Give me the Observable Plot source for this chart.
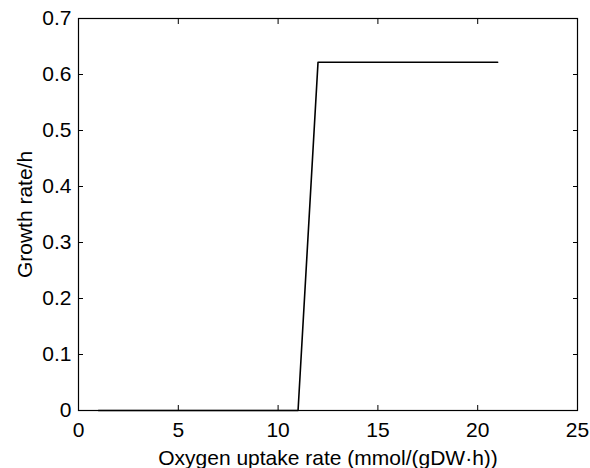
<!DOCTYPE html>
<html>
<head>
<meta charset="utf-8">
<script src="https://cdn.jsdelivr.net/npm/d3@7"></script>
<script src="https://cdn.jsdelivr.net/npm/@observablehq/plot@0.6"></script>
<style>
  html, body { margin: 0; padding: 0; background: #fff; }
  svg { display: block; }
</style>
</head>
<body>
<div id="chart"></div>
<script>
const oxygenUptake = [1, 11, 12, 21];
const growthRate = [0, 0, 0.622, 0.622];
const xTicks = [0, 5, 10, 15, 20, 25];
const yTicks = [0, 0.1, 0.2, 0.3, 0.4, 0.5, 0.6, 0.7];
const xLabel = "Oxygen uptake rate (mmol/(gDW·h))";
const yLabel = "Growth rate/h";

const data = oxygenUptake.map((x, i) => ({x, y: growthRate[i]}));

const chart = Plot.plot({
  width: 590,
  height: 468,
  marginLeft: 78,
  marginRight: 13,
  marginTop: 18,
  marginBottom: 58,
  style: {fontFamily: "'Liberation Sans', Arial, sans-serif", fontSize: "21px", color: "#000", background: "#fff", overflow: "visible"},
  x: {domain: [0, 25]},
  y: {domain: [0, 0.7]},
  marks: [
    Plot.frame({stroke: "#000", strokeWidth: 1.2}),
    Plot.axisX(xTicks, {anchor: "bottom", tickSize: 0, tickPadding: 12, fontSize: 21, tickFormat: d => String(d), label: xLabel, labelAnchor: "center", labelArrow: "none", labelOffset: 54}),
    Plot.axisX(xTicks, {anchor: "bottom", tickSize: -5, text: null, label: null}),
    Plot.axisX(xTicks, {anchor: "top", tickSize: -5, text: null, label: null}),
    Plot.axisY(yTicks, {anchor: "left", tickSize: 0, tickPadding: 7, fontSize: 21, tickFormat: d => d === 0 ? "0" : d3.format(".1f")(d), label: yLabel, labelAnchor: "center", labelArrow: "none", labelOffset: 61}),
    Plot.axisY(yTicks, {anchor: "left", tickSize: -5, text: null, label: null}),
    Plot.axisY(yTicks, {anchor: "right", tickSize: -5, text: null, label: null}),
    Plot.line(data, {x: "x", y: "y", stroke: "#000", strokeWidth: 1.6})
  ]
});
document.getElementById("chart").appendChild(chart);
</script>
</body>
</html>
